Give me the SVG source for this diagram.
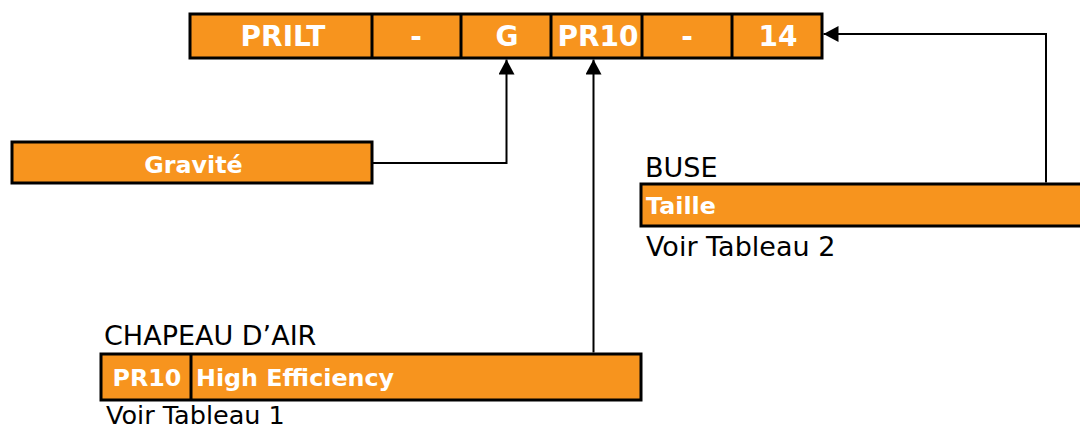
<svg xmlns="http://www.w3.org/2000/svg" width="1080" height="430" viewBox="0 0 1080 430">
<style>
.box{fill:#F7941E;stroke:#000;stroke-width:3}
.div{stroke:#000;stroke-width:3}
.bt{font-family:"DejaVu Sans",sans-serif;font-weight:bold;fill:#fff;font-size:23.8px}
.tt{font-family:"DejaVu Sans",sans-serif;font-weight:bold;fill:#fff;font-size:28px;text-anchor:middle}
.rt{font-family:"DejaVu Sans",sans-serif;fill:#000;font-size:27px}
.conn{fill:none;stroke:#000;stroke-width:2}
</style>
<defs>
<marker id="arr" markerUnits="userSpaceOnUse" markerWidth="15" markerHeight="16" viewBox="0 0 15 16" refX="15" refY="8" orient="auto">
<path d="M0,0 L15,8 L0,16 z" fill="#000"/>
</marker>
</defs>
<g id="code">
<rect class="box" x="190" y="14" width="632" height="44"/>
<line class="div" x1="372" y1="14" x2="372" y2="58"/>
<line class="div" x1="461" y1="14" x2="461" y2="58"/>
<line class="div" x1="551" y1="14" x2="551" y2="58"/>
<line class="div" x1="642" y1="14" x2="642" y2="58"/>
<line class="div" x1="732" y1="14" x2="732" y2="58"/>
<text class="tt" x="283" y="46">PRILT</text>
<text class="tt" x="416" y="46">-</text>
<text class="tt" x="507" y="46">G</text>
<text class="tt" x="598" y="46">PR10</text>
<text class="tt" x="687" y="46">-</text>
<text class="tt" x="778" y="46">14</text>
</g>
<g id="gravite">
<rect class="box" x="12" y="142" width="360" height="41"/>
<text class="bt" x="193.5" y="173" text-anchor="middle">Gravité</text>
</g>
<g id="buse">
<text class="rt" x="645" y="177">BUSE</text>
<rect class="box" x="641" y="184" width="445" height="42"/>
<text class="bt" x="646" y="214">Taille</text>
<text class="rt" x="646" y="256">Voir Tableau 2</text>
</g>
<g id="chapeau">
<text class="rt" x="104" y="345">CHAPEAU D’AIR</text>
<rect class="box" x="101" y="354" width="540" height="46"/>
<line class="div" x1="191" y1="354" x2="191" y2="400"/>
<text class="bt" x="147" y="386" text-anchor="middle">PR10</text>
<text class="bt" x="196" y="386">High Efficiency</text>
<text class="rt" x="106" y="423.5" style="font-size:25.5px">Voir Tableau 1</text>
</g>
<g id="connectors">
<polyline class="conn" points="372,163 506.5,163 506.5,59.5" marker-end="url(#arr)"/>
<polyline class="conn" points="593.5,352.5 593.5,59.5" marker-end="url(#arr)"/>
<polyline class="conn" points="1046,182.5 1046,34 823.5,34" marker-end="url(#arr)"/>
</g>
</svg>
